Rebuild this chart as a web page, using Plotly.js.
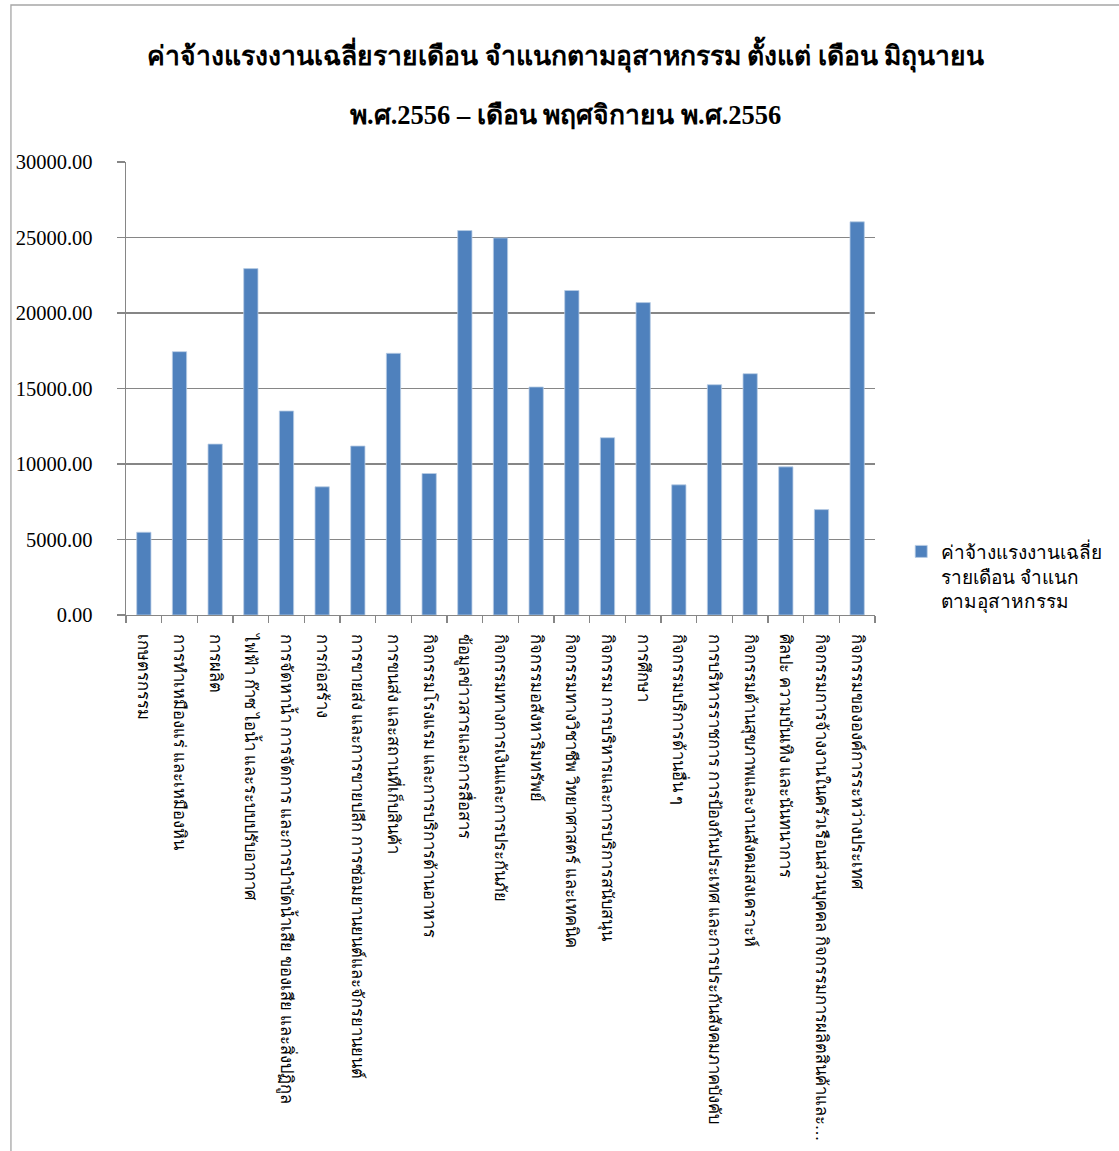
<!DOCTYPE html>
<html>
<head>
<meta charset="utf-8">
<script src="https://cdn.plot.ly/plotly-3.0.1.min.js"></script>
<style>html,body{margin:0;padding:0;background:#fff;}#chart{width:1119px;height:1151px;}</style>
</head>
<body>
<div id="chart"></div>
<script>
const categories = [
  "เกษตรกรรม",
  "การทำเหมืองแร่ และเหมืองหิน",
  "การผลิต",
  "ไฟฟ้า ก๊าซ ไอน้ำ และระบบปรับอากาศ",
  "การจัดหาน้ำ การจัดการ และการบำบัดน้ำเสีย ของเสีย และสิ่งปฏิกูล",
  "การก่อสร้าง",
  "การขายส่ง และการขายปลีก การซ่อมยานยนต์และจักรยานยนต์",
  "การขนส่ง และสถานที่เก็บสินค้า",
  "กิจกรรมโรงแรม และการบริการด้านอาหาร",
  "ข้อมูลข่าวสารและการสื่อสาร",
  "กิจกรรมทางการเงินและการประกันภัย",
  "กิจกรรมอสังหาริมทรัพย์",
  "กิจกรรมทางวิชาชีพ วิทยาศาสตร์ และเทคนิค",
  "กิจกรรม การบริหารและการบริการสนับสนุน",
  "การศึกษา",
  "กิจกรรมบริการด้านอื่น ๆ",
  "การบริหารราชการ การป้องกันประเทศ และการประกันสังคมภาคบังคับ",
  "กิจกรรมด้านสุขภาพและงานสังคมสงเคราะห์",
  "ศิลปะ ความบันเทิง และนันทนาการ",
  "กิจกรรมการจ้างงานในครัวเรือนส่วนบุคคล กิจกรรมการผลิตสินค้าและ…",
  "กิจกรรมขององค์การระหว่างประเทศ"
];
const wages = [5480, 17440, 11320, 22940, 13510, 8490, 11190, 17330, 9370, 25460,
               24970, 15100, 21490, 11740, 20690, 8620, 15250, 15980, 9810, 6980, 26040];
const seriesName = "ค่าจ้างแรงงานเฉลี่ย<br>รายเดือน จำแนก<br>ตามอุสาหกรรม";
const titleLine1 = "ค่าจ้างแรงงานเฉลี่ยรายเดือน จำแนกตามอุสาหกรรม ตั้งแต่ เดือน มิถุนายน";
const titleLine2 = "พ.ศ.2556 – เดือน พฤศจิกายน พ.ศ.2556";
const yTicks = [0, 5000, 10000, 15000, 20000, 25000, 30000];

const serif = "'Liberation Serif', 'Times New Roman', serif";
const titleFont = {family: serif, size: 26.5, color: '#000', weight: 'bold'};
const trace = {
  type: 'bar',
  x: categories,
  y: wages,
  name: seriesName,
  marker: {color: '#4F81BD', line: {color: '#b9cde5', width: 0.8}},
  showlegend: true
};

const layout = {
  width: 1119, height: 1151,
  paper_bgcolor: '#ffffff', plot_bgcolor: '#ffffff',
  margin: {l: 126, r: 225, t: 162, b: 536},
  bargap: 0.6,
  title: {
    text: titleLine1,
    font: titleFont,
    x: 0.587, xanchor: 'center', xref: 'paper',
    y: 0.952, yanchor: 'middle', yref: 'container'
  },
  annotations: [{
    text: titleLine2, font: titleFont, showarrow: false,
    xref: 'paper', yref: 'paper', x: 0.587, y: 1.1038,
    xanchor: 'center', yanchor: 'middle'
  }],
  xaxis: {
    type: 'category',
    tickangle: 90,
    tickson: 'boundaries',
    ticks: 'outside', ticklen: 7, tickcolor: '#868686', tickwidth: 1.3,
    showline: true, linecolor: '#868686', linewidth: 1.3,
    showgrid: false,
    tickfont: {family: serif, size: 16.5, color: '#000'},
    ticklabelstandoff: 14,
    automargin: false
  },
  yaxis: {
    range: [0, 30000],
    tickvals: yTicks,
    tickformat: '.2f',
    ticks: 'outside', ticklen: 8, tickcolor: '#868686', tickwidth: 1.3,
    showline: true, linecolor: '#868686', linewidth: 1.3,
    showgrid: true, gridcolor: '#868686', gridwidth: 1.4,
    zeroline: false,
    tickfont: {family: serif, size: 20.5, color: '#000'},
    ticklabelstandoff: 20,
    automargin: false
  },
  legend: {
    x: 1.035, xanchor: 'left', y: 0.182, yanchor: 'top',
    valign: 'top',
    font: {family: serif, size: 19, color: '#000'},
    bgcolor: 'rgba(0,0,0,0)'
  },
  shapes: [{
    type: 'rect', xref: 'paper', yref: 'paper',
    x0: -0.1536, x1: 1.5, y0: -1.3, y1: 1.3466,
    line: {color: '#a6a6a6', width: 1.3}, fillcolor: 'rgba(0,0,0,0)', layer: 'below'
  }]
};

Plotly.newPlot('chart', [trace], layout, {displayModeBar: false, staticPlot: true});
</script>
</body>
</html>
